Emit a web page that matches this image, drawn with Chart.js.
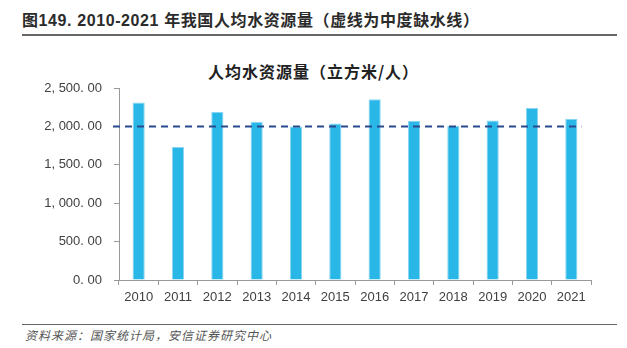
<!DOCTYPE html>
<html>
<head>
<meta charset="utf-8">
<script src="https://cdn.jsdelivr.net/npm/chart.js@4"></script>
<style>
  body { margin: 0; width: 627px; height: 348px; background: #fff; position: relative; overflow: hidden; }
  #head { position: absolute; left: 22px; top: 7px; font: bold 16px "Liberation Sans", "Noto Sans CJK SC", sans-serif; color: #2b2b2b; letter-spacing: 0.6px; }
  #headLine { position: absolute; left: 22px; top: 34px; width: 595px; height: 2px; background: #666; }
  #title { position: absolute; left: 0; width: 627px; top: 59px; text-align: center; font: bold 16px "Noto Sans CJK SC", sans-serif; color: #222; letter-spacing: 1px; }
  #box { position: absolute; left: 0; top: 40px; width: 627px; height: 270px; }
  #footLine { position: absolute; left: 22px; top: 324px; width: 595px; height: 1px; background: #666; }
  #source { position: absolute; left: 25px; top: 326px; font: italic 12px "Noto Sans CJK SC", sans-serif; color: #555; letter-spacing: 1px; }
</style>
</head>
<body>
<div id="head">图149. 2010-2021 年我国人均水资源量（虚线为中度缺水线）</div>
<div id="headLine"></div>
<div id="title">人均水资源量（立方米/人）</div>
<div id="box"><canvas id="waterChart" width="627" height="270"></canvas></div>
<div id="footLine"></div>
<div id="source">资料来源：国家统计局，安信证券研究中心</div>
<script>
// years and per-capita water resources (m3 per person)
const years = ['2010', '2011', '2012', '2013', '2014', '2015', '2016', '2017', '2018', '2019', '2020', '2021'];
const waterPerCapita = [2310.4, 1730.2, 2186.2, 2059.7, 1998.6, 2039.2, 2354.9, 2074.5, 2007.6, 2077.7, 2239.8, 2098.5];
const shortageLine = 2000; // moderate water shortage threshold
const yTicks = [0, 500, 1000, 1500, 2000, 2500];

function fmtTick(v) {
    // mimic the wide comma / period spacing of the original
    return v.toLocaleString('en-US', { minimumFractionDigits: 2, maximumFractionDigits: 2 })
        .replace(',', ', ').replace('.', '. ');
}

// dashed threshold line drawn off the y scale
const thresholdLine = {
    id: 'thresholdLine',
    afterDatasetsDraw(chart) {
        const ctx = chart.ctx;
        const y = chart.scales.y.getPixelForValue(shortageLine);
        const xs = chart.scales.x;
        const right = xs.getPixelForValue(years.length - 1) + 10;
        ctx.save();
        ctx.strokeStyle = '#2b4a8e';
        ctx.lineWidth = 2;
        ctx.setLineDash([7, 5]);
        ctx.beginPath();
        ctx.moveTo(chart.chartArea.left - 6, y);
        ctx.lineTo(right, y);
        ctx.stroke();
        ctx.restore();
    }
};

const tickFont = { family: '"Liberation Sans", Arial, sans-serif', size: 13 };

new Chart(document.getElementById('waterChart'), {
    type: 'bar',
    data: {
        labels: years,
        datasets: [{
            data: waterPerCapita,
            backgroundColor: '#29b7e7',
            borderColor: '#8ad6f2',
            borderWidth: { top: 1, left: 1, right: 1, bottom: 0 },
            categoryPercentage: 1,
            barPercentage: 0.31
        }]
    },
    options: {
        responsive: false,
        animation: false,
        devicePixelRatio: 1,
        layout: { padding: { top: 48, left: 0, right: 36, bottom: 0 } },
        plugins: {
            legend: { display: false },
            tooltip: { enabled: false }
        },
        scales: {
            x: {
                afterFit(scale) { scale.height = 30; },
                grid: { offset: true, drawOnChartArea: false, tickLength: 5, color: '#999' },
                border: { color: '#999' },
                ticks: { color: '#404040', font: tickFont, padding: 5, maxRotation: 0 }
            },
            y: {
                min: 0,
                max: 2500,
                afterFit(scale) { scale.width = 119; },
                afterBuildTicks(scale) { scale.ticks = yTicks.map(v => ({ value: v })); },
                grid: { drawOnChartArea: false, tickLength: 5, color: '#999' },
                border: { color: '#999' },
                ticks: { color: '#404040', font: tickFont, padding: 12, callback: v => fmtTick(v) }
            }
        }
    },
    plugins: [thresholdLine]
});
</script>
</body>
</html>
